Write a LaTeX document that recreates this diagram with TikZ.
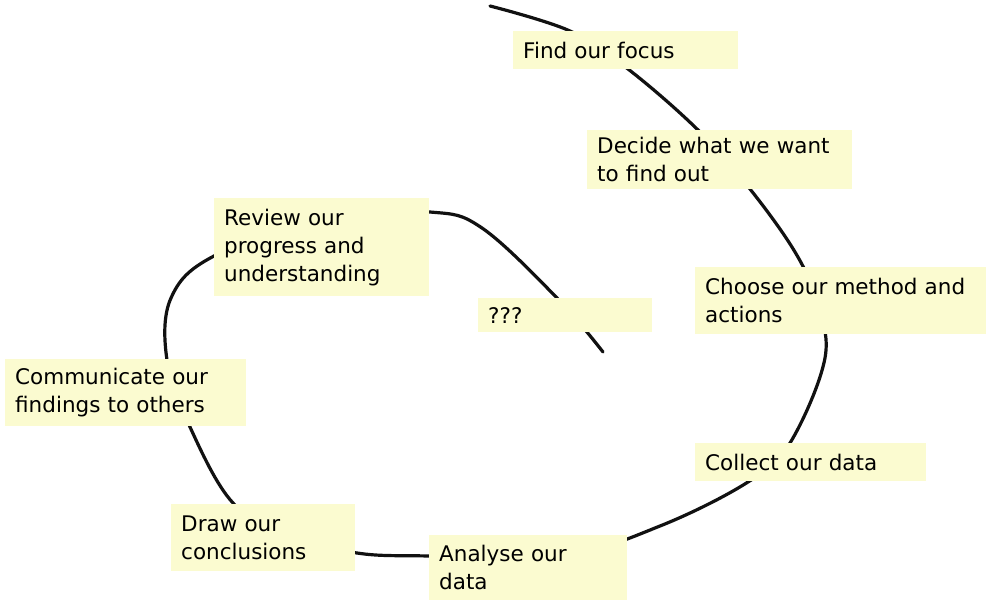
\documentclass[tikz,border=0pt]{standalone}
\usepackage{fontspec}
\setmainfont{DejaVu Sans}
\usetikzlibrary{backgrounds}
\definecolor{notefill}{RGB}{251,251,208}
\definecolor{inkline}{RGB}{17,17,17}
\tikzset{
  note/.style={anchor=north west, fill=notefill, draw=none, inner xsep=10pt, inner ysep=0pt,
    align=left, font=\fontsize{21.5}{28}\selectfont, text=black},
  spiral/.style={draw=inkline, line width=3.2pt, line cap=round}
}
\newcommand{\notebox}[6]{\node[note, minimum width=#4pt, minimum height=#5pt, text width=#4pt-20pt] (#1) at (#2,#3) {#6};}
\begin{document}
\begin{tikzpicture}[x=1pt,y=-1pt]
\useasboundingbox (0,0) rectangle (992,607);
\notebox{find}{513}{31}{225}{38}{Find our focus}
\notebox{decide}{587}{130}{265}{59}{Decide what we want\\to find out}
\notebox{choose}{695}{267}{291}{67}{Choose our method and\\actions}
\notebox{collect}{695}{443}{231}{38}{Collect our data}
\notebox{analyse}{429}{535}{198}{65}{Analyse our\\data}
\notebox{concl}{171}{504}{184}{67}{Draw our\\conclusions}
\notebox{comm}{5}{359}{241}{67}{Communicate our\\findings to others}
\notebox{review}{214}{198}{215}{98}{Review our\\progress and\\understanding}
\notebox{qqq}{478}{298}{174}{34}{???}
\coordinate (start) at (490,6);
\coordinate (finish) at (603,352);
\begin{pgfonlayer}{background}
\fill[white] (0,0) rectangle (992,607);
\draw[spiral] plot[smooth, tension=0.6] coordinates {
 (start) (570,31) (628,69) (698,130) (750,189) (795,252) (816,300) (825,358)
 (790,443) (748,482) (660,526) (560,557) (430,556) (357,553) (290,535) (233,503)
 (190,427) (167,360) (171,298) (214,256) (330,215) (430,212) (482,228) (557,298)
 (finish)};
\end{pgfonlayer}
\end{tikzpicture}
\end{document}
